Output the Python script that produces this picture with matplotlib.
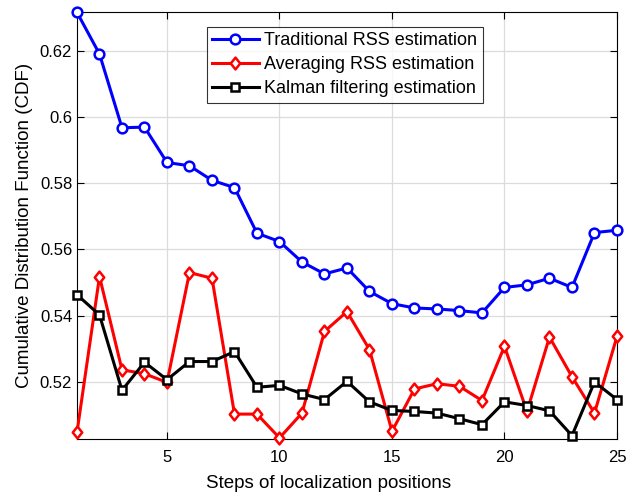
import matplotlib.pyplot as plt
import numpy as np
from matplotlib.path import Path

plt.rcParams['font.family'] = ['Liberation Sans', 'DejaVu Sans']

steps = np.arange(1, 26)

# CDF values per localization step
traditional = [0.6317, 0.6191, 0.5968, 0.5970, 0.5863, 0.5853, 0.5809, 0.5787, 0.5649, 0.5624,
               0.5562, 0.5526, 0.5544, 0.5473, 0.5436, 0.5423, 0.5420, 0.5415, 0.5408, 0.5485,
               0.5493, 0.5513, 0.5485, 0.5651, 0.5658]
averaging = [0.5047, 0.5518, 0.5236, 0.5224, 0.5198, 0.5530, 0.5513, 0.5102, 0.5102, 0.5030,
             0.5105, 0.5352, 0.5412, 0.5297, 0.5050, 0.5178, 0.5194, 0.5186, 0.5143, 0.5307,
             0.5110, 0.5335, 0.5215, 0.5105, 0.5337]
kalman = [0.5463, 0.5402, 0.5174, 0.5259, 0.5206, 0.5261, 0.5261, 0.5291, 0.5183, 0.5189,
          0.5163, 0.5146, 0.5201, 0.5139, 0.5113, 0.5110, 0.5105, 0.5088, 0.5070, 0.5139,
          0.5128, 0.5112, 0.5037, 0.5199, 0.5146]

# MATLAB-style diamond, a bit wider than matplotlib's thin 'd'
diamond = Path([(0, 1), (0.8, 0), (0, -1), (-0.8, 0), (0, 1)],
               [Path.MOVETO, Path.LINETO, Path.LINETO, Path.LINETO, Path.CLOSEPOLY])

fig = plt.figure(figsize=(6.26, 4.95), dpi=100)
ax = fig.add_axes([0.123, 0.114, 0.8626, 0.861])

ax.plot(steps, traditional, color='#0000ff', lw=2.2, marker='o', ms=7,
        mfc='white', mec='#0000ff', mew=1.8, clip_on=False, zorder=3,
        label='Traditional RSS estimation')
ax.plot(steps, averaging, color='#ff0000', lw=2.2, marker=diamond, ms=8.5,
        mfc='white', mec='#ff0000', mew=1.8, clip_on=False, zorder=3,
        label='Averaging RSS estimation')
ax.plot(steps, kalman, color='black', lw=2.2, marker='s', ms=5.5,
        mfc='white', mec='black', mew=1.8, clip_on=False, zorder=3,
        label='Kalman filtering estimation')

ax.set_xlim(1, 25)
ax.set_ylim(0.5028, 0.6317)
ax.set_xticks([5, 10, 15, 20, 25])
ax.set_yticks([0.52, 0.54, 0.56, 0.58, 0.60, 0.62])
ax.set_yticklabels(['0.52', '0.54', '0.56', '0.58', '0.6', '0.62'])

ax.grid(True, color='#dcdcdc', lw=0.9)
ax.set_axisbelow(True)
ax.tick_params(direction='in', top=True, right=True, labelsize=12, length=5, width=0.8)
ax.tick_params(axis='x', pad=8)
for s in ax.spines.values():
    s.set_linewidth(0.8)

ax.set_xlabel('Steps of localization positions', fontsize=13.5, labelpad=7)
ax.xaxis.set_label_coords(0.465, -0.085)
ax.set_ylabel('Cumulative Distribution Function (CDF)', fontsize=13.5, labelpad=5)

leg = ax.legend(loc='upper left', bbox_to_anchor=(0.240, 0.9655), borderaxespad=0,
                fontsize=13, frameon=True, fancybox=False, handlelength=2.6,
                labelspacing=0.38, borderpad=0.3, handletextpad=0.3)
leg.get_frame().set_edgecolor('black')
leg.get_frame().set_linewidth(0.8)

plt.savefig('out.png', dpi=100)
